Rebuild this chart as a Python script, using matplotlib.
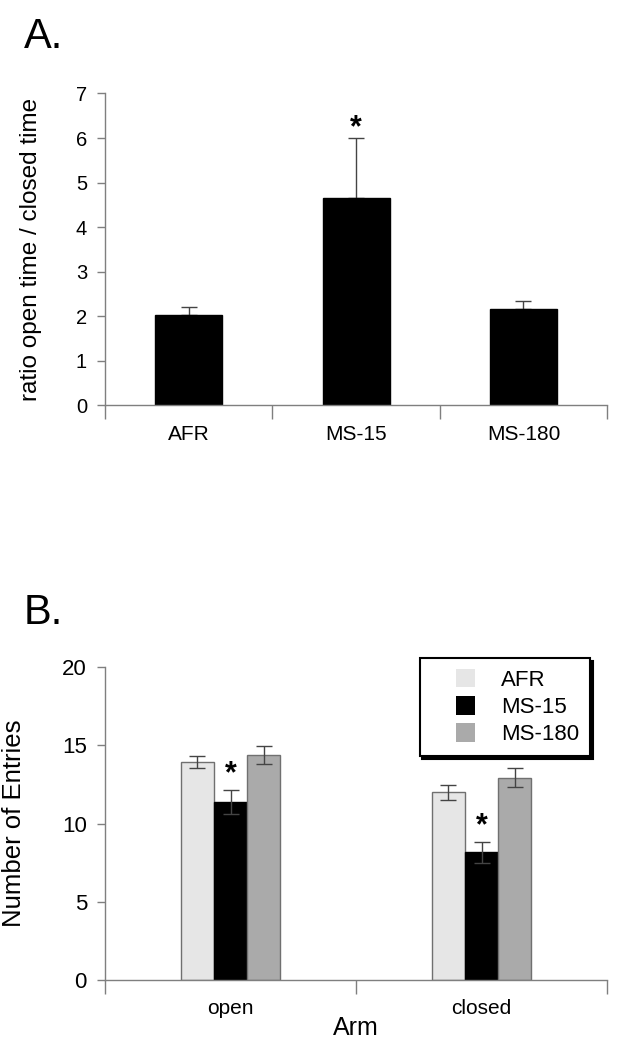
import matplotlib
matplotlib.use('Agg')
import matplotlib.pyplot as plt
import matplotlib.patches as mpatches
from matplotlib.legend_handler import HandlerPatch
import numpy as np

plt.rcParams['font.family'] = ['Liberation Sans', 'DejaVu Sans']

# panel A: ratio open/closed time
groups_a = ['AFR', 'MS-15', 'MS-180']
ratio_mean = [2.03, 4.65, 2.17]
ratio_err = [0.18, 1.35, 0.16]

# panel B: number of entries per arm
arms = ['open', 'closed']
series_b = ['AFR', 'MS-15', 'MS-180']
entries = {
    'AFR': [13.95, 12.0],
    'MS-15': [11.4, 8.17],
    'MS-180': [14.4, 12.93],
}
entries_err = {
    'AFR': [0.37, 0.48],
    'MS-15': [0.77, 0.68],
    'MS-180': [0.57, 0.6],
}
colors_b = {'AFR': '#e6e6e6', 'MS-15': '#000000', 'MS-180': '#aaaaaa'}

spine_c = '#7f7f7f'
err_c = '#444444'

fig = plt.figure(figsize=(6.3, 10.5), dpi=100)


def style_axes(ax, ysize):
    for s in ['top', 'right']:
        ax.spines[s].set_visible(False)
    for s in ['left', 'bottom']:
        ax.spines[s].set_color(spine_c)
        ax.spines[s].set_linewidth(1.0)
    ax.tick_params(axis='y', colors=spine_c, labelcolor='black', length=6,
                   width=1.0, labelsize=ysize, pad=7)
    ax.tick_params(axis='x', which='major', length=0, labelsize=15, pad=14)
    ax.tick_params(axis='x', which='minor', length=10, width=1.0, colors=spine_c)


# square legend swatch pushed to the right side of the handle box
def square_patch(legend, orig_handle, xdescent, ydescent, width, height, fontsize):
    s = 0.85 * fontsize
    return mpatches.Rectangle((width - s - xdescent, -ydescent + (height - s) / 2), s, s)


# ---- A ----
axA = fig.add_axes([0.1667, 0.614, 0.797, 0.297])
xa = np.arange(len(groups_a))
axA.bar(xa, ratio_mean, width=0.4, color='black', edgecolor='black', zorder=2)
axA.errorbar(xa, ratio_mean, yerr=[np.zeros(3), ratio_err], fmt='none',
             ecolor=err_c, elinewidth=1.0, capsize=6, capthick=1.0, zorder=1)
axA.text(xa[1], ratio_mean[1] + ratio_err[1] + 0.22, '*', ha='center',
         va='center', fontsize=22, fontweight='bold')
axA.set_xlim(-0.5, 2.5)
axA.set_ylim(0, 7)
axA.set_yticks(range(0, 8))
axA.set_xticks(xa)
axA.set_xticklabels(groups_a)
axA.set_xticks([-0.5, 0.5, 1.5, 2.5], minor=True)
axA.set_ylabel('ratio open time / closed time', fontsize=17.5, labelpad=24)
style_axes(axA, 14.5)
fig.text(0.038, 0.954, 'A.', fontsize=30, ha='left', va='baseline')

# ---- B ----
axB = fig.add_axes([0.1667, 0.0667, 0.797, 0.298])
xb = np.arange(len(arms))
w = 0.132
for i, name in enumerate(series_b):
    pos = xb + (i - 1) * w
    ec = '#707070' if name != 'MS-15' else 'black'
    axB.bar(pos, entries[name], width=w, color=colors_b[name], edgecolor=ec,
            linewidth=1.0, zorder=2)
    axB.errorbar(pos, entries[name], yerr=entries_err[name], fmt='none',
                 ecolor=err_c, elinewidth=1.0, capsize=6, capthick=1.0, zorder=3)
for j in range(len(arms)):
    top = entries['MS-15'][j] + entries_err['MS-15'][j]
    axB.text(xb[j], top + 0.95, '*', ha='center', va='center', fontsize=22,
             fontweight='bold')
axB.set_xlim(-0.5, 1.5)
axB.set_ylim(0, 20)
axB.set_yticks([0, 5, 10, 15, 20])
axB.set_xticks(xb)
axB.set_xticklabels(arms, fontsize=16)
axB.set_xticks([-0.5, 0.5, 1.5], minor=True)
axB.set_ylabel('Number of Entries', fontsize=18.5, labelpad=26)
axB.set_xlabel('Arm', fontsize=18, labelpad=-2)
style_axes(axB, 16)

proxies = [mpatches.Patch(facecolor=colors_b[n], edgecolor='none') for n in series_b]
leg = axB.legend(proxies, series_b, loc='upper right', bbox_to_anchor=(0.966, 1.029),
                 fontsize=16, frameon=True, fancybox=False,
                 shadow={'color': 'black', 'alpha': 1},
                 handlelength=2.0, handleheight=0.85, handletextpad=1.15,
                 borderpad=0.5, labelspacing=0.25, borderaxespad=0,
                 handler_map={mpatches.Patch: HandlerPatch(patch_func=square_patch)})
leg.get_frame().set_edgecolor('black')
leg.get_frame().set_linewidth(1.5)
fig.text(0.038, 0.406, 'B.', fontsize=30, ha='left', va='baseline')

fig.savefig('out.png', dpi=100)
